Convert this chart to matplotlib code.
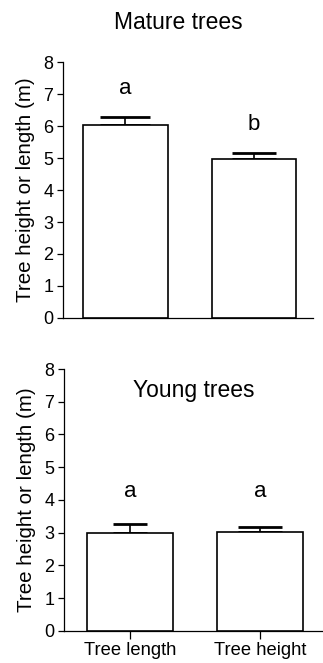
import numpy as np
import matplotlib
matplotlib.use("Agg")
import matplotlib.pyplot as plt

plt.rcParams['font.family'] = ['Liberation Sans', 'DejaVu Sans']

# Bar data (mean and upper SE) for each panel
categories = ['Tree length', 'Tree height']
mature_mean = [6.03, 4.98]
mature_err = [0.25, 0.19]
mature_letters = ['a', 'b']
young_mean = [3.00, 3.02]
young_err = [0.27, 0.16]
young_letters = ['a', 'a']

fig = plt.figure(figsize=(3.23, 6.63), dpi=100)
ax1 = fig.add_axes([0.195, 0.5204, 0.774, 0.386])
ax2 = fig.add_axes([0.198, 0.0487, 0.802, 0.3947])

x = np.arange(len(categories))


def draw_panel(ax, means, errs, capsizes):
    ax.bar(x, means, width=0.66, color='white', edgecolor='black', linewidth=1.2, zorder=3)
    for xi, m, e, cs in zip(x, means, errs, capsizes):
        ax.errorbar(xi, m, yerr=[[0], [e]], fmt='none', ecolor='black',
                    elinewidth=1.2, capsize=cs, capthick=2, zorder=2)
    ax.set_ylim(0, 8)
    ax.set_yticks(range(0, 9))
    ax.tick_params(axis='y', labelsize=13, length=4.5, width=0.9, pad=2.5)
    ax.set_ylabel('Tree height or length (m)', fontsize=14.8, labelpad=6)
    for side in ['top', 'right']:
        ax.spines[side].set_visible(False)
    for side in ['left', 'bottom']:
        ax.spines[side].set_linewidth(0.9)


# Mature trees
draw_panel(ax1, mature_mean, mature_err, [18, 15.5])
ax1.set_xlim(-0.486, 1.459)
ax1.set_xticks([])
for xi, m, e, lab in zip(x, mature_mean, mature_err, mature_letters):
    ax1.text(xi, m + e + 0.72, lab, ha='center', va='baseline', fontsize=16)
fig.text(178 / 323, 1 - 29 / 663, 'Mature trees', ha='center', va='baseline', fontsize=16.5)

# Young trees
draw_panel(ax2, young_mean, young_err, [12, 15.8])
ax2.set_xlim(-0.508, 1.485)
ax2.set_xticks(x)
ax2.set_xticklabels(categories, fontsize=13.2)
ax2.tick_params(axis='x', length=6, width=0.9, pad=2)
label_y = max(m + e for m, e in zip(young_mean, young_err)) + 0.83
for xi, lab in zip(x, young_letters):
    ax2.text(xi, label_y, lab, ha='center', va='baseline', fontsize=16)
ax2.text(0.5, 0.96, 'Young trees', transform=ax2.transAxes, ha='center', va='top', fontsize=16.5)

fig.savefig('out.png', dpi=100)
